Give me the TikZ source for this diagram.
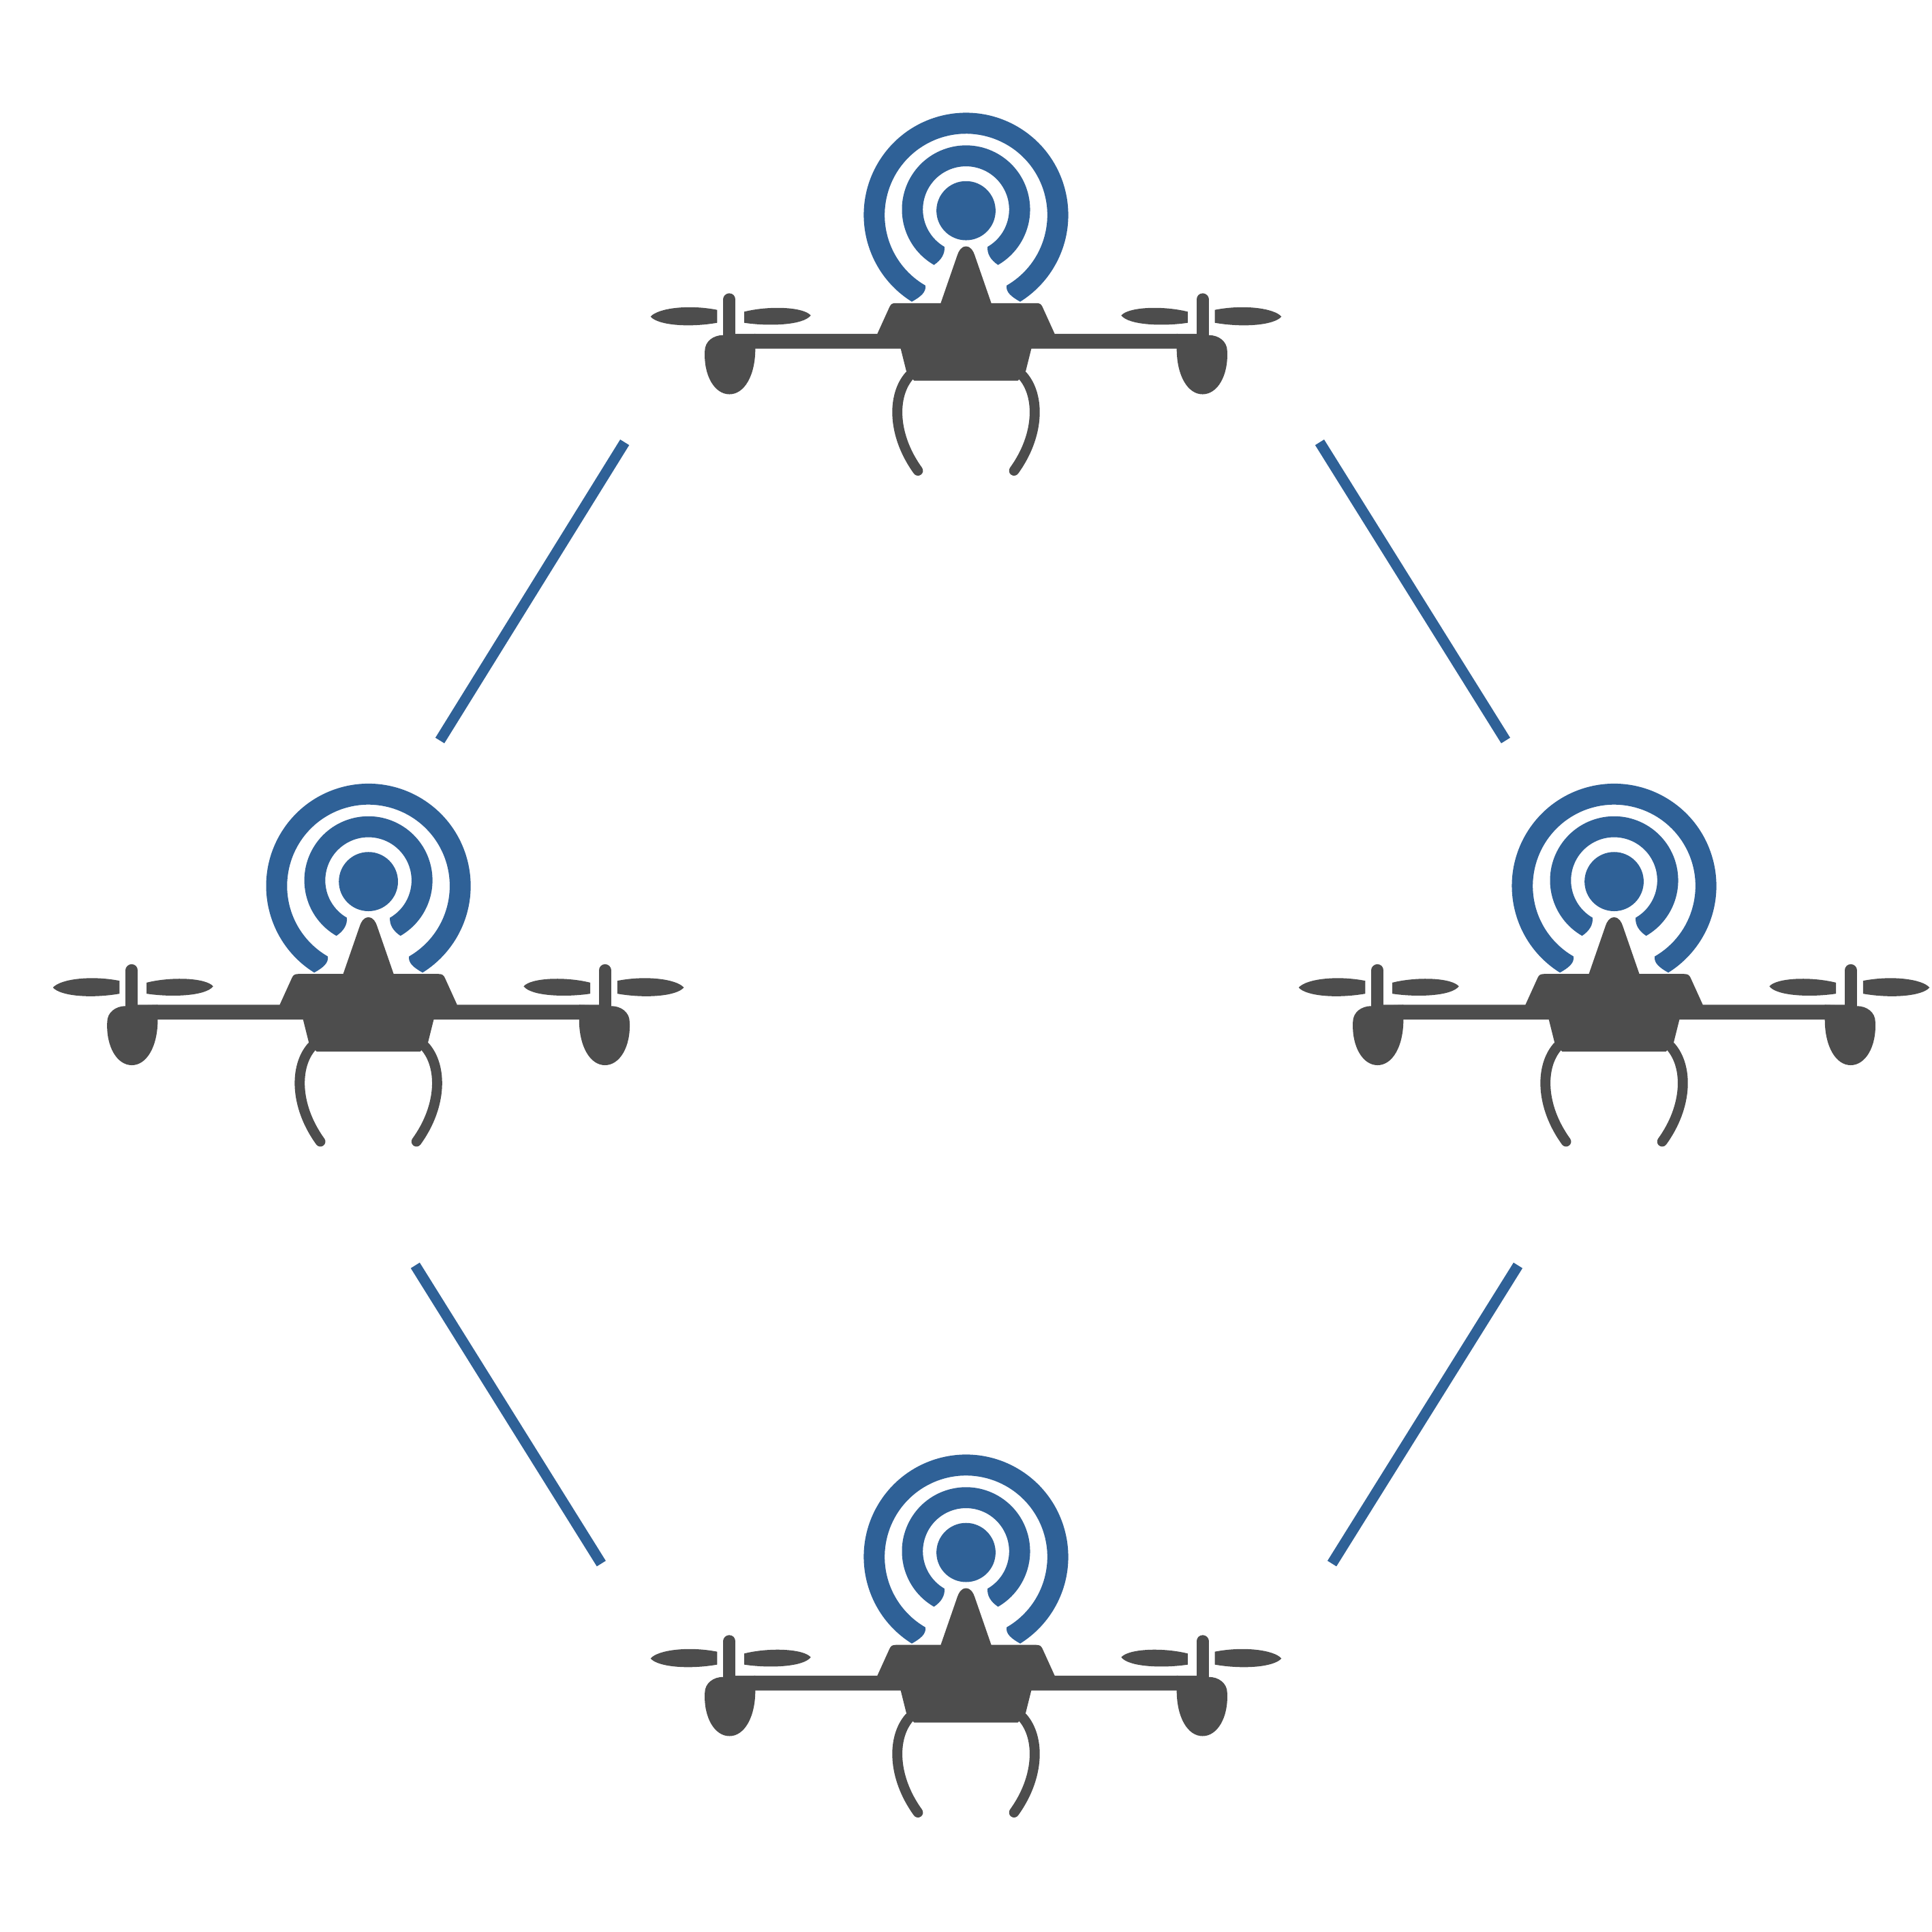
\documentclass[tikz,border=0pt]{standalone}
\definecolor{droneblue}{HTML}{2F6197}
\definecolor{dronegrey}{HTML}{4D4D4D}
\newcommand{\halfdronepaths}{%
    \fill[greyfill] (-171,-112) .. controls (-171,-134) and (-180,-149) .. (-192,-149)
      .. controls (-204,-149) and (-213,-134) .. (-212,-114)
      .. controls (-212,-106) and (-205,-101) .. (-197,-101) -- (-171,-100) -- cycle;
    \draw[pylonline] (-192,-72) -- (-192,-105);
    \fill[greyfill] (-202,-80.5) .. controls (-225,-76) and (-250,-79) .. (-256,-86)
      .. controls (-250,-93) and (-225,-95) .. (-202,-91) -- cycle;
    \fill[greyfill] (-180,-82) .. controls (-160,-77) and (-132,-78) .. (-126,-85)
      .. controls (-132,-93) and (-160,-94) .. (-180,-91) -- cycle;
    \draw[legline] (-46,-134) .. controls (-60,-150) and (-60,-182) .. (-39,-211);
}
\tikzset{
  x=0.01808cm, y=0.01808cm,
  link/.style={draw=droneblue, line width=4.4pt},
  greyfill/.style={fill=dronegrey, draw=none},
  bluefill/.style={fill=droneblue, draw=none},
  legline/.style={draw=dronegrey, line width=4.2pt, line cap=round},
  pylonline/.style={draw=dronegrey, line width=5.1pt, line cap=round},
  drone/.pic={
    \halfdronepaths
    \begin{scope}[xscale=-1]\halfdronepaths\end{scope}
    \fill[greyfill] (0,-29) .. controls (-4,-29) and (-6,-33) .. (-7,-36) -- (-20.5,-75)
      -- (-57,-75) .. controls (-60,-75) and (-61,-76) .. (-62,-78) -- (-72,-100)
      -- (-192,-100) -- (-192,-112) -- (-53,-112) -- (-48,-132) -- (-42,-138)
      -- (42,-138) -- (48,-132) -- (53,-112) -- (192,-112) -- (192,-100) -- (72,-100)
      -- (62,-78) .. controls (61,-76) and (60,-75) .. (57,-75)
      -- (20.5,-75) -- (7,-36) .. controls (6,-33) and (4,-29) .. (0,-29) -- cycle;
    \fill[bluefill] (0,0) circle[radius=24];
    % outer arc
    \fill[bluefill] (-43.98,-73.89) arc[start angle=238, end angle=-58, radius=1.5006cm]
      .. controls (37,-70) and (32,-66) .. (33,-60.7)
      arc[start angle=-60, end angle=240, radius=1.1933cm]
      .. controls (-32,-66) and (-37,-70) .. (-43.98,-73.89) -- cycle;
    % middle arc
    \fill[bluefill] (-26,-44.03) arc[start angle=240, end angle=-60, radius=0.9402cm]
      .. controls (20,-40) and (17,-35) .. (17.5,-29.31)
      arc[start angle=-60, end angle=240, radius=0.6328cm]
      .. controls (-17,-35) and (-20,-40) .. (-26,-44.03) -- cycle;
  }
}
\begin{document}
\begin{tikzpicture}
\useasboundingbox (0,0) rectangle (1568,1568);
\pic at (784,1397) {drone};
\pic at (299,852.5) {drone};
\pic at (1310,852.5) {drone};
\pic at (784,308) {drone};
\coordinate (a1) at (507,1209);
\coordinate (a2) at (357,967);
\coordinate (b1) at (1071,1209);
\coordinate (b2) at (1222,967);
\coordinate (c1) at (337,541);
\coordinate (c2) at (488,299);
\coordinate (d1) at (1232,541);
\coordinate (d2) at (1081,299);
\draw[link] (a1) -- (a2);
\draw[link] (b1) -- (b2);
\draw[link] (c1) -- (c2);
\draw[link] (d1) -- (d2);
\end{tikzpicture}
\end{document}
